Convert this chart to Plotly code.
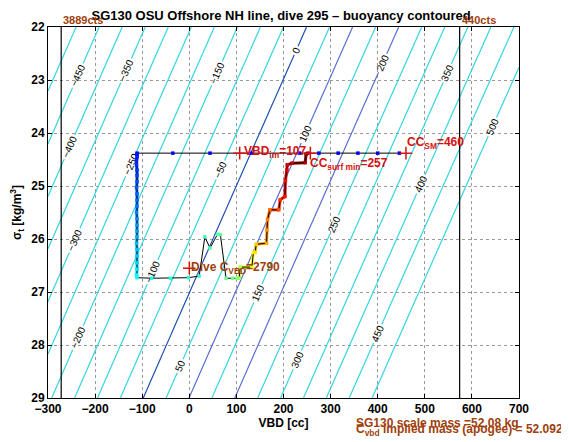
import numpy as np
import plotly.graph_objects as go
from plotly.colors import sample_colorscale

# ---------------- data ----------------
# surface bleed at start of dive (sigma_t at surface)
surface_vbd = [446, 400, 358, 316, 275, 234, 131, 44, -35, -111]
surface_sig = [24.38, 24.38, 24.38, 24.38, 24.38, 24.38, 24.38, 24.38, 24.38, 24.38]
surface_t = [0.10, 0.10, 0.11, 0.11, 0.11, 0.12, 0.12, 0.12, 0.13, 0.13]

# descent
descent_vbd = [-111, -111, -112, -112, -111, -111, -111, -112, -111, -111, -111, -112,
               -111, -111, -111, -111, -112, -111, -111, -111, -111, -112, -111]
descent_sig = [24.40, 24.45, 24.52, 24.60, 24.70, 24.80, 24.92, 25.03, 25.15, 25.27, 25.38, 25.50,
               25.62, 25.74, 25.85, 25.96, 26.08, 26.20, 26.32, 26.45, 26.57, 26.68, 26.73]
descent_t = [0.14, 0.15, 0.16, 0.17, 0.18, 0.19, 0.20, 0.21, 0.22, 0.23, 0.24, 0.25,
             0.26, 0.27, 0.28, 0.29, 0.30, 0.31, 0.32, 0.33, 0.35, 0.37, 0.38]

# apogee pump at bottom
bottom_vbd = [-80, -40, -2, 21]
bottom_sig = [26.74, 26.74, 26.73, 26.70]
bottom_t = [0.40, 0.41, 0.42, 0.43]

apogee_vbd = [33, 44, 60, 66, 78, 92, 101]
apogee_sig = [25.96, 26.17, 25.91, 25.92, 26.74, 26.74, 26.74]
apogee_t = [0.44, 0.45, 0.46, 0.47, 0.48, 0.49, 0.50]

# climb
climb_vbd = [106, 108, 133, 136, 140, 142, 164, 165, 166, 171, 190, 193, 203, 204, 207, 208, 218, 246, 248, 252]
climb_sig = [26.74, 26.53, 26.53, 26.25, 26.25, 26.10, 26.08, 25.83, 25.64, 25.45, 25.45, 25.26,
             25.20, 24.90, 24.70, 24.60, 24.57, 24.56, 24.40, 24.38]
climb_t = [0.53, 0.56, 0.60, 0.63, 0.66, 0.68, 0.71, 0.73, 0.75, 0.77, 0.80, 0.83, 0.86, 0.88,
           0.90, 0.92, 0.94, 0.96, 0.98, 1.00]

# buoyancy contour model
glider_mass_g = 52080.0
vol_zero_vbd_cc = 50710.0
contour_start, contour_end, contour_step = -500, 500, 50

# reference values
vbd_im = 107
cc_sm = 460
cc_surf_min = 257
sigma_surface = 24.38
dive_c_vbd = 2790
dive_c_pos = (0, 26.55)
vbd_min_line = -272   # 3889 cts
vbd_max_line = 574    # 440 cts
scale_mass = "52.08"
implied_mass = "52.0923"

x_ticks = [-300, -200, -100, 0, 100, 200, 300, 400, 500, 600, 700]
y_ticks = [22, 23, 24, 25, 26, 27, 28, 29]

# ---------------- styling ----------------
FONT = "Liberation Sans"
BROWN = "#a0400c"
RED = "#d81010"
CYAN = "#33d6e0"
DBLUE = "#2050b0"
SBLUE = "#5a70d0"
JET = [[0, "#00008f"], [0.125, "#0000ff"], [0.375, "#00ffff"], [0.625, "#ffff00"],
       [0.875, "#ff0000"], [1, "#800000"]]

fig = go.Figure()

# contours
vg = np.linspace(-300, 700, 41)
sg = np.linspace(22, 29, 29)
VV, SS = np.meshgrid(vg, sg)
Z = (1000.0 + SS) * (vol_zero_vbd_cc + VV) / 1000.0 - glider_mass_g

cs = [[0, CYAN], [0.485, CYAN], [0.49, DBLUE], [0.51, DBLUE], [0.515, CYAN],
      [0.585, CYAN], [0.59, SBLUE], [0.61, SBLUE], [0.615, CYAN],
      [0.685, CYAN], [0.69, SBLUE], [0.71, SBLUE], [0.715, CYAN], [1, CYAN]]
fig.add_trace(go.Contour(
    x=vg, y=sg, z=Z, autocontour=False,
    contours=dict(start=contour_start, end=contour_end, size=contour_step, coloring="lines",
                  showlabels=True, labelfont=dict(size=10, color="black", family=FONT)),
    colorscale=cs, zmin=contour_start, zmax=contour_end, showscale=False,
    line=dict(width=1.2), hoverinfo="skip"))

# vertical count limit lines
for xv in (vbd_min_line, vbd_max_line):
    fig.add_trace(go.Scatter(x=[xv, xv], y=[22, 29], mode="lines",
                             line=dict(color="black", width=1.2), hoverinfo="skip"))

# assemble dive trace
vbd_all = surface_vbd + descent_vbd + bottom_vbd + apogee_vbd + climb_vbd
sig_all = surface_sig + descent_sig + bottom_sig + apogee_sig + climb_sig
t_all = surface_t + descent_t + bottom_t + apogee_t + climb_t
cols = sample_colorscale(JET, t_all)

# thick colored segments on descent and climb
n1 = len(surface_vbd)
n2 = n1 + len(descent_vbd)
n3 = n2 + len(bottom_vbd) + len(apogee_vbd)
thick_idx = list(range(n1 - 1, n2 - 1)) + list(range(n3 - 1, len(vbd_all) - 1))
for i in thick_idx:
    fig.add_trace(go.Scatter(x=[vbd_all[i], vbd_all[i + 1]], y=[sig_all[i], sig_all[i + 1]],
                             mode="lines", line=dict(color=cols[i + 1], width=3),
                             hoverinfo="skip"))

fig.add_trace(go.Scatter(x=vbd_all, y=sig_all, mode="lines",
                         line=dict(color="black", width=1), hoverinfo="skip"))
fig.add_trace(go.Scatter(x=vbd_all, y=sig_all, mode="markers",
                         marker=dict(symbol="square", size=3.5, color=cols), hoverinfo="skip"))

# red plus markers
fig.add_trace(go.Scatter(x=[vbd_im, cc_surf_min, cc_sm, dive_c_pos[0]],
                         y=[sigma_surface, sigma_surface, sigma_surface, dive_c_pos[1]],
                         mode="markers",
                         marker=dict(symbol="cross-thin", size=9, line=dict(color=RED, width=1.5)),
                         hoverinfo="skip"))

ann_font = dict(family=FONT, size=12, weight="bold")
annotations = [
    dict(x=vbd_min_line, y=1, xref="x", yref="paper", text="3889cts", showarrow=False,
         xanchor="left", yanchor="bottom", yshift=-1, font=dict(family=FONT, size=11, weight="bold", color=BROWN)),
    dict(x=vbd_max_line, y=1, xref="x", yref="paper", text="440cts", showarrow=False,
         xanchor="left", yanchor="bottom", yshift=-1, font=dict(family=FONT, size=11, weight="bold", color=BROWN)),
    dict(x=vbd_im, y=sigma_surface, text=f"VBD<sub>im</sub>={vbd_im}", showarrow=False,
         xanchor="left", yanchor="middle", xshift=2, yshift=1, font=dict(**ann_font, color=RED)),
    dict(x=cc_surf_min, y=sigma_surface, text=f"CC<sub>surf min</sub>={cc_surf_min}", showarrow=False,
         xanchor="left", yanchor="top", xshift=-2, yshift=-1, font=dict(**ann_font, color=RED)),
    dict(x=cc_sm, y=sigma_surface, text=f"CC<sub>SM</sub>={cc_sm}", showarrow=False,
         xanchor="left", yanchor="bottom", xshift=-1, yshift=0, font=dict(**ann_font, color=RED)),
    dict(x=dive_c_pos[0], y=dive_c_pos[1], text=f"Dive C<sub>VBD</sub>={dive_c_vbd}", showarrow=False,
         xanchor="left", yanchor="middle", xshift=0, yshift=0, font=dict(**ann_font, color=BROWN)),
    dict(x=350, y=-0.067, xref="x", yref="paper", text=f"SG130 scale mass ={scale_mass} kg",
         showarrow=False, xanchor="left", yanchor="middle", font=dict(**ann_font, color=BROWN)),
    dict(x=350, y=-0.058, xref="x", yref="paper",
         text=f"C<sub>vbd</sub> implied mass (apogee) = {implied_mass} kg",
         showarrow=False, xanchor="left", yanchor="top", font=dict(**ann_font, color=BROWN)),
]

axis_common = dict(showgrid=True, gridcolor="#9a9a9a", griddash="dot", gridwidth=1,
                   zeroline=False, showline=True, linecolor="black", linewidth=1,
                   mirror="ticks", ticks="inside", ticklen=4, tickcolor="black",
                   tickfont=dict(family=FONT, size=12, weight="bold", color="black"),
                   automargin=False)

# page body has an 8px margin, so plot area is placed to land at the reference pixels
fig.update_layout(
    width=569, height=442,
    margin=dict(l=40, r=58, t=19, b=52),
    paper_bgcolor="white", plot_bgcolor="white", showlegend=False,
    title=dict(text="SG130 OSU Offshore NH line, dive 295 \u2013 buoyancy contoured",
               x=0.48, xanchor="center", y=1 - 7 / 442, yanchor="middle", yref="container",
               font=dict(family=FONT, size=13, weight="bold", color="black")),
    xaxis=dict(range=[-300, 700], tickvals=x_ticks,
               title=dict(text="VBD [cc]", standoff=3,
                          font=dict(family=FONT, size=12, weight="bold", color="black")),
               **axis_common),
    yaxis=dict(range=[29, 22], tickvals=y_ticks,
               title=dict(text="\u03c3<sub>t</sub> [kg/m<sup>3</sup>]", standoff=13,
                          font=dict(family=FONT, size=12, weight="bold", color="black")),
               **axis_common),
    annotations=annotations,
)

fig.write_html("out.html")
